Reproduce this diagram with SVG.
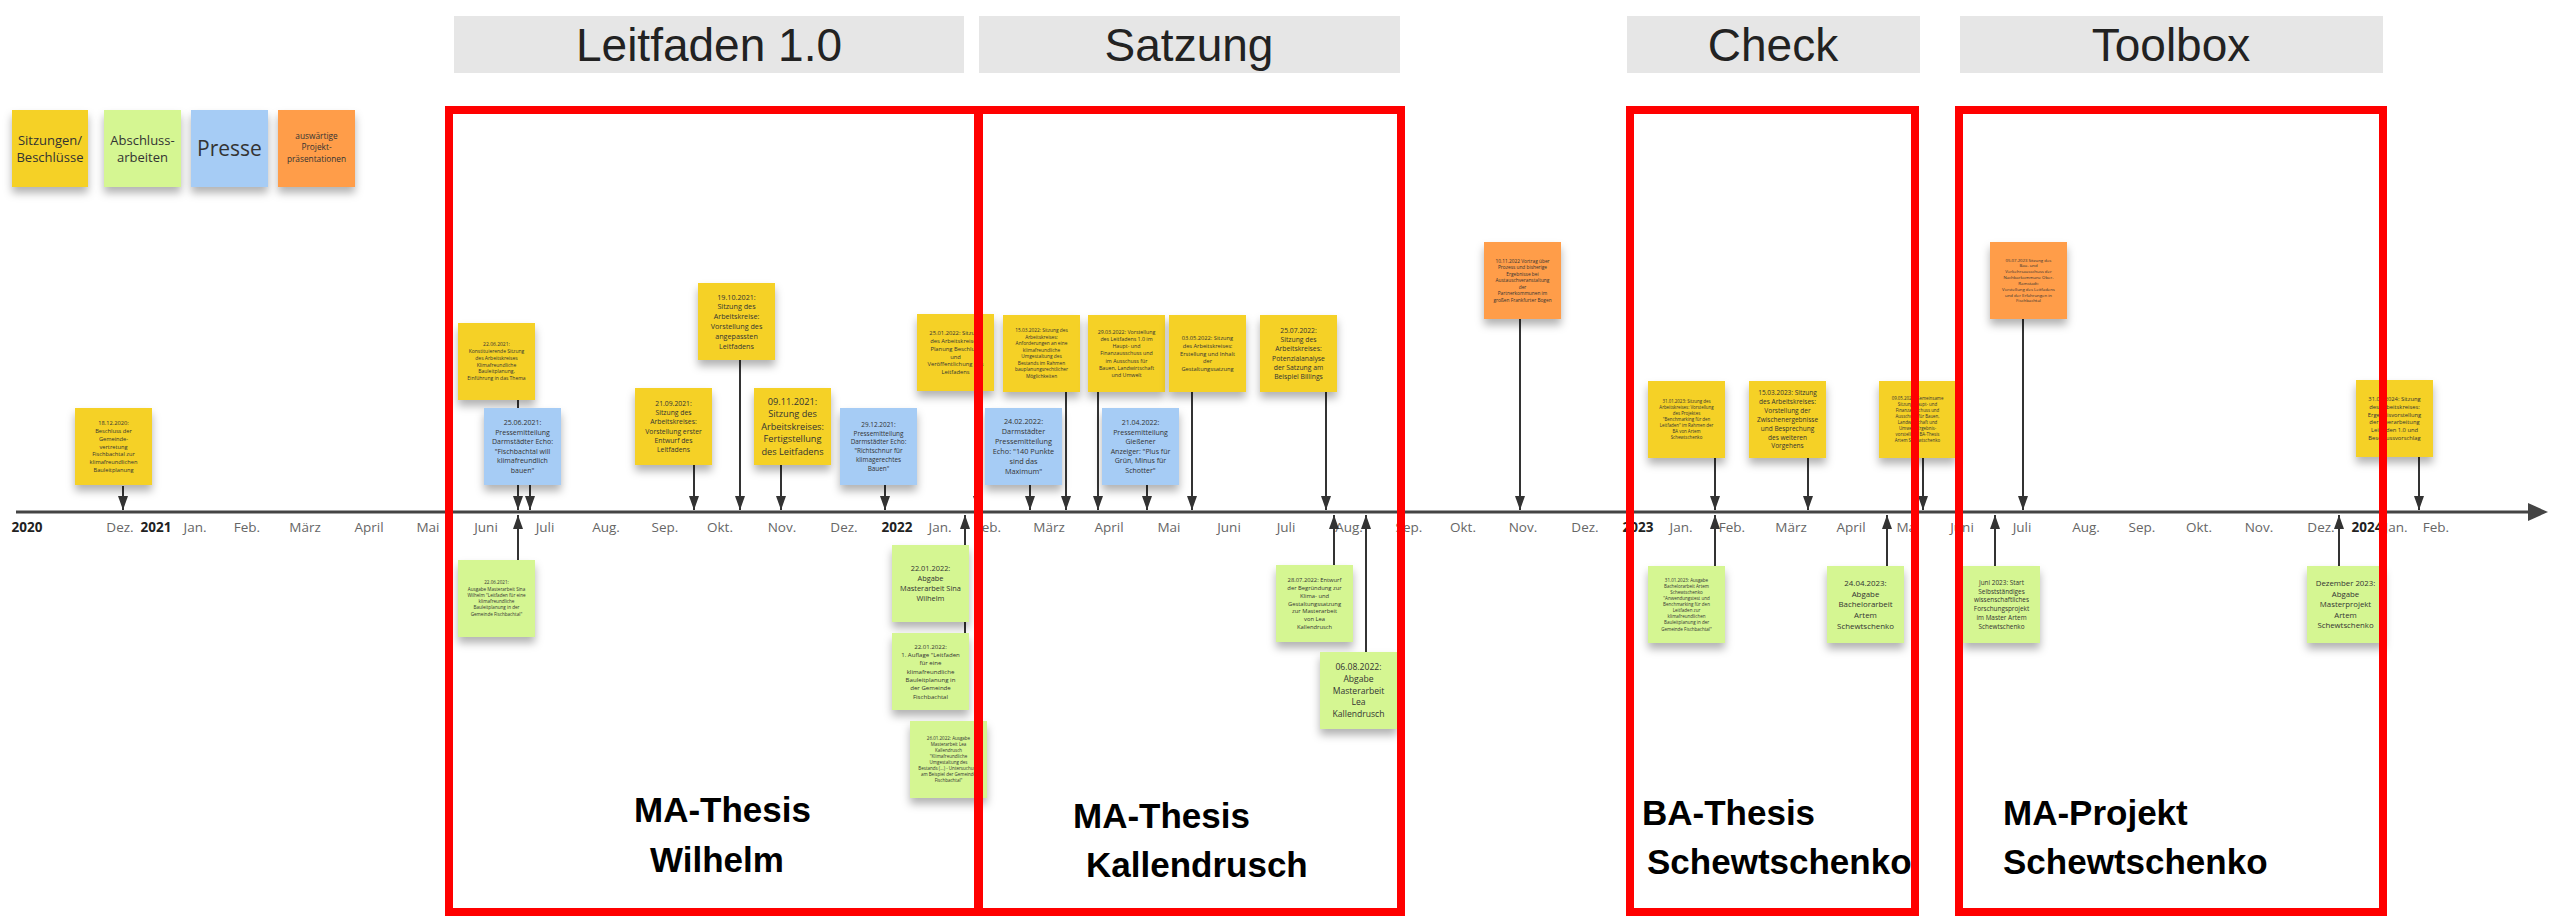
<svg xmlns="http://www.w3.org/2000/svg" width="2549" height="917" viewBox="0 0 2549 917">
<style>
.y{fill:#f5d128}.g{fill:#d5f692}.b{fill:#a6ccf5}.o{fill:#ff9d48}
.nr{filter:url(#sh)}
.nt{font-family:"Open Sans","Noto Sans",sans-serif;fill:#333;text-anchor:middle}
.c{stroke:#333;stroke-width:2;fill:none}
.dn{marker-end:url(#ah)}
.red{fill:none;stroke:#ff0000;stroke-width:8}
.hdr{fill:#e6e6e6}
.ht{font-family:"Liberation Sans",Arial,sans-serif;font-size:46px;fill:#222;text-anchor:middle}
.bt{font-family:"Liberation Sans",Arial,sans-serif;font-size:35px;font-weight:bold;fill:#000}
.ax{font-family:"Open Sans",sans-serif;font-size:13.5px;fill:#666;text-anchor:middle}
.yr{font-weight:bold;fill:#222}
</style>
<defs>
<filter id="sh" x="-20%" y="-20%" width="140%" height="150%">
<feDropShadow dx="0" dy="6" stdDeviation="4" flood-color="#000" flood-opacity="0.3"/>
</filter>
<marker id="ah" markerUnits="userSpaceOnUse" markerWidth="14" markerHeight="10" refX="14" refY="5" orient="auto">
<path d="M0,0 L14,5 L0,10 z" fill="#333"/>
</marker>
</defs>
<rect width="2549" height="917" fill="#fff"/>

<g id="headers">
<rect class="hdr" x="454" y="16" width="510" height="57"/><text class="ht" x="709" y="61">Leitfaden 1.0</text>
<rect class="hdr" x="979" y="16" width="421" height="57"/><text class="ht" x="1189" y="61">Satzung</text>
<rect class="hdr" x="1627" y="16" width="293" height="57"/><text class="ht" x="1773" y="61">Check</text>
<rect class="hdr" x="1960" y="16" width="423" height="57"/><text class="ht" x="2171" y="61">Toolbox</text>
</g>

<g id="legend">
<rect class="y nr" x="12" y="110" width="76" height="77"/>
<text class="nt" font-size="13" x="50" y="145"><tspan x="50">Sitzungen/</tspan><tspan x="50" dy="17">Beschlüsse</tspan></text>
<rect class="g nr" x="104" y="110" width="77" height="77"/>
<text class="nt" font-size="13" x="142.5" y="145"><tspan x="142.5">Abschluss-</tspan><tspan x="142.5" dy="17">arbeiten</tspan></text>
<rect class="b nr" x="191" y="110" width="77" height="77"/>
<text class="nt" font-size="21" x="229.5" y="156">Presse</text>
<rect class="o nr" x="278" y="110" width="77" height="77"/>
<text class="nt" font-size="8.3" x="316.5" y="138.7"><tspan x="316.5">auswärtige</tspan><tspan x="316.5" dy="11.5">Projekt-</tspan><tspan x="316.5" dy="11.5">präsentationen</tspan></text>
</g>

<g id="timeline">
<line x1="16" y1="512" x2="2532" y2="512" stroke="#444" stroke-width="3"/>
<path d="M2528,503 L2548,512 L2528,521 z" fill="#444"/>
<text class="ax yr" x="27" y="532">2020</text>
<text class="ax" x="120" y="532">Dez.</text>
<text class="ax yr" x="156" y="532">2021</text>
<text class="ax" x="195" y="532">Jan.</text>
<text class="ax" x="247" y="532">Feb.</text>
<text class="ax" x="305" y="532">März</text>
<text class="ax" x="369" y="532">April</text>
<text class="ax" x="428" y="532">Mai</text>
<text class="ax" x="486" y="532">Juni</text>
<text class="ax" x="545" y="532">Juli</text>
<text class="ax" x="606" y="532">Aug.</text>
<text class="ax" x="665" y="532">Sep.</text>
<text class="ax" x="720" y="532">Okt.</text>
<text class="ax" x="782" y="532">Nov.</text>
<text class="ax" x="844" y="532">Dez.</text>
<text class="ax yr" x="897" y="532">2022</text>
<text class="ax" x="940" y="532">Jan.</text>
<text class="ax" x="988" y="532">Feb.</text>
<text class="ax" x="1049" y="532">März</text>
<text class="ax" x="1109" y="532">April</text>
<text class="ax" x="1169" y="532">Mai</text>
<text class="ax" x="1229" y="532">Juni</text>
<text class="ax" x="1286" y="532">Juli</text>
<text class="ax" x="1349" y="532">Aug.</text>
<text class="ax" x="1409" y="532">Sep.</text>
<text class="ax" x="1463" y="532">Okt.</text>
<text class="ax" x="1523" y="532">Nov.</text>
<text class="ax" x="1585" y="532">Dez.</text>
<text class="ax yr" x="1638" y="532">2023</text>
<text class="ax" x="1681" y="532">Jan.</text>
<text class="ax" x="1732" y="532">Feb.</text>
<text class="ax" x="1791" y="532">März</text>
<text class="ax" x="1851" y="532">April</text>
<text class="ax" x="1908" y="532">Mai</text>
<text class="ax" x="1962" y="532">Juni</text>
<text class="ax" x="2022" y="532">Juli</text>
<text class="ax" x="2086" y="532">Aug.</text>
<text class="ax" x="2142" y="532">Sep.</text>
<text class="ax" x="2199" y="532">Okt.</text>
<text class="ax" x="2259" y="532">Nov.</text>
<text class="ax" x="2321" y="532">Dez.</text>
<text class="ax yr" x="2367" y="532">2024</text>
<text class="ax" x="2396" y="532">Jan.</text>
<text class="ax" x="2436" y="532">Feb.</text>
</g>

<g id="connectors">
<path class="c dn" d="M123,486 V510"/>
<path class="c dn" d="M518,400 V510"/>
<path class="c dn" d="M530,485 V510"/>
<path class="c dn" d="M694,465 V510"/>
<path class="c dn" d="M740,360 V510"/>
<path class="c dn" d="M781,465 V510"/>
<path class="c dn" d="M885,485 V510"/>
<path class="c dn" d="M978,391 V510"/>
<path class="c dn" d="M1030,485 V510"/>
<path class="c dn" d="M1066,392 V510"/>
<path class="c dn" d="M1098,392 V510"/>
<path class="c dn" d="M1147,485 V510"/>
<path class="c dn" d="M1192,392 V510"/>
<path class="c dn" d="M1326,392 V510"/>
<path class="c dn" d="M1520,319 V510"/>
<path class="c dn" d="M1715,458 V510"/>
<path class="c dn" d="M1808,458 V510"/>
<path class="c dn" d="M1923,458 V510"/>
<path class="c dn" d="M2023,319 V510"/>
<path class="c dn" d="M2419,457 V510"/>
<path class="c dn" d="M518,560 V515"/>
<path class="c dn" d="M965,633 V515"/>
<path class="c dn" d="M1334,565 V515"/>
<path class="c dn" d="M1366,652 V515"/>
<path class="c dn" d="M1715,566 V515"/>
<path class="c dn" d="M1887,566 V515"/>
<path class="c dn" d="M1995,566 V515"/>
<path class="c dn" d="M2339,566 V515"/>
</g>

<g id="n-20201218"><rect class="y nr" x="75" y="408" width="77" height="77"/>
<text class="nt" font-size="5.7" y="425.25"><tspan x="113.5">18.12.2020:</tspan><tspan x="113.5" dy="7.75">Beschluss der</tspan><tspan x="113.5" dy="7.75">Gemeinde-</tspan><tspan x="113.5" dy="7.75">vertretung</tspan><tspan x="113.5" dy="7.75">Fischbachtal zur</tspan><tspan x="113.5" dy="7.75">klimafreundlichen</tspan><tspan x="113.5" dy="7.75">Bauleitplanung</tspan></text></g>

<g id="n-20210622a"><rect class="y nr" x="458" y="323" width="77" height="77"/>
<text class="nt" font-size="5" y="346.25"><tspan x="496.5">22.06.2021:</tspan><tspan x="496.5" dy="6.8">Konstituierende Sitzung</tspan><tspan x="496.5" dy="6.8">des Arbeitskreises</tspan><tspan x="496.5" dy="6.8">Klimafreundliche</tspan><tspan x="496.5" dy="6.8">Bauleitplanung,</tspan><tspan x="496.5" dy="6.8">Einführung in das Thema</tspan></text></g>

<g id="n-20210625"><rect class="b nr" x="484" y="408" width="77" height="77"/>
<text class="nt" font-size="7" y="425.2"><tspan x="522.5">25.06.2021:</tspan><tspan x="522.5" dy="9.5">Pressemitteilung</tspan><tspan x="522.5" dy="9.5">Darmstädter Echo:</tspan><tspan x="522.5" dy="9.5">"Fischbachtal will</tspan><tspan x="522.5" dy="9.5">klimafreundlich</tspan><tspan x="522.5" dy="9.5">bauen"</tspan></text></g>

<g id="n-20210622b"><rect class="g nr" x="458" y="560" width="77" height="77"/>
<text class="nt" font-size="4.6" y="584.45"><tspan x="496.5">22.06.2021:</tspan><tspan x="496.5" dy="6.26">Ausgabe Masterarbeit Sina</tspan><tspan x="496.5" dy="6.26">Wilhelm "Leitfaden für eine</tspan><tspan x="496.5" dy="6.26">klimafreundliche</tspan><tspan x="496.5" dy="6.26">Bauleitplanung in der</tspan><tspan x="496.5" dy="6.26">Gemeinde Fischbachtal"</tspan></text></g>

<g id="n-20210921"><rect class="y nr" x="635" y="388" width="77" height="77"/>
<text class="nt" font-size="6.8" y="405.8"><tspan x="673.5">21.09.2021:</tspan><tspan x="673.5" dy="9.25">Sitzung des</tspan><tspan x="673.5" dy="9.25">Arbeitskreises:</tspan><tspan x="673.5" dy="9.25">Vorstellung erster</tspan><tspan x="673.5" dy="9.25">Entwurf des</tspan><tspan x="673.5" dy="9.25">Leitfadens</tspan></text></g>

<g id="n-20211019"><rect class="y nr" x="698" y="283" width="77" height="77"/>
<text class="nt" font-size="7.2" y="299.5"><tspan x="736.5">19.10.2021:</tspan><tspan x="736.5" dy="9.8">Sitzung des</tspan><tspan x="736.5" dy="9.8">Arbeitskreise:</tspan><tspan x="736.5" dy="9.8">Vorstellung des</tspan><tspan x="736.5" dy="9.8">angepassten</tspan><tspan x="736.5" dy="9.8">Leitfadens</tspan></text></g>

<g id="n-20211109"><rect class="y nr" x="754" y="388" width="77" height="77"/>
<text class="nt" font-size="9.2" y="404.7"><tspan x="792.5">09.11.2021:</tspan><tspan x="792.5" dy="12.5">Sitzung des</tspan><tspan x="792.5" dy="12.5">Arbeitskreises:</tspan><tspan x="792.5" dy="12.5">Fertigstellung</tspan><tspan x="792.5" dy="12.5">des Leitfadens</tspan></text></g>

<g id="n-20211229"><rect class="b nr" x="840" y="408" width="77" height="77"/>
<text class="nt" font-size="6.4" y="427"><tspan x="878.5">29.12.2021:</tspan><tspan x="878.5" dy="8.7">Pressemitteilung</tspan><tspan x="878.5" dy="8.7">Darmstädter Echo:</tspan><tspan x="878.5" dy="8.7">"Richtschnur für</tspan><tspan x="878.5" dy="8.7">klimagerechtes</tspan><tspan x="878.5" dy="8.7">Bauen"</tspan></text></g>

<g id="n-20220125"><rect class="y nr" x="917" y="314" width="77" height="77"/>
<text class="nt" font-size="5.8" y="334.8"><tspan x="955.5">25.01.2022: Sitzung</tspan><tspan x="955.5" dy="7.9">des Arbeitskreises:</tspan><tspan x="955.5" dy="7.9">Planung Beschluss</tspan><tspan x="955.5" dy="7.9">und</tspan><tspan x="955.5" dy="7.9">Veröffentlichung des</tspan><tspan x="955.5" dy="7.9">Leitfadens</tspan></text></g>

<g id="n-20220122a"><rect class="g nr" x="892" y="545" width="77" height="77"/>
<text class="nt" font-size="7.4" y="571.1"><tspan x="930.5">22.01.2022:</tspan><tspan x="930.5" dy="10">Abgabe</tspan><tspan x="930.5" dy="10">Masterarbeit Sina</tspan><tspan x="930.5" dy="10">Wilhelm</tspan></text></g>

<g id="n-20220122b"><rect class="g nr" x="892" y="633" width="77" height="77"/>
<text class="nt" font-size="6.1" y="648.7"><tspan x="930.5">22.01.2022:</tspan><tspan x="930.5" dy="8.3">1. Auflage "Leitfaden</tspan><tspan x="930.5" dy="8.3">für eine</tspan><tspan x="930.5" dy="8.3">klimafreundliche</tspan><tspan x="930.5" dy="8.3">Bauleitplanung in</tspan><tspan x="930.5" dy="8.3">der Gemeinde</tspan><tspan x="930.5" dy="8.3">Fischbachtal</tspan></text></g>

<g id="n-20220126"><rect class="g nr" x="910" y="721" width="77" height="77"/>
<text class="nt" font-size="4.5" y="739.75"><tspan x="948.5">26.01.2022: Ausgabe</tspan><tspan x="948.5" dy="6.1">Masterarbeit Lea</tspan><tspan x="948.5" dy="6.1">Kallendrusch</tspan><tspan x="948.5" dy="6.1">"Klimafreundliche</tspan><tspan x="948.5" dy="6.1">Umgestaltung des</tspan><tspan x="948.5" dy="6.1">Bestands (...) - Untersuchung</tspan><tspan x="948.5" dy="6.1">am Beispiel der Gemeinde</tspan><tspan x="948.5" dy="6.1">Fischbachtal"</tspan></text></g>

<g id="n-20220315"><rect class="y nr" x="1003" y="315" width="77" height="77"/>
<text class="nt" font-size="4.8" y="332.45"><tspan x="1041.5">15.03.2022: Sitzung des</tspan><tspan x="1041.5" dy="6.5">Arbeitskreises:</tspan><tspan x="1041.5" dy="6.5">Anforderungen an eine</tspan><tspan x="1041.5" dy="6.5">klimafreundliche</tspan><tspan x="1041.5" dy="6.5">Umgestaltung des</tspan><tspan x="1041.5" dy="6.5">Bestands im Rahmen</tspan><tspan x="1041.5" dy="6.5">bauplanungsrechtlicher</tspan><tspan x="1041.5" dy="6.5">Möglichkeiten</tspan></text></g>

<g id="n-20220329"><rect class="y nr" x="1088" y="315" width="77" height="77"/>
<text class="nt" font-size="5.3" y="333.76"><tspan x="1126.5">29.03.2022: Vorstellung</tspan><tspan x="1126.5" dy="7.2">des Leitfadens 1.0 im</tspan><tspan x="1126.5" dy="7.2">Haupt- und</tspan><tspan x="1126.5" dy="7.2">Finanzausschuss und</tspan><tspan x="1126.5" dy="7.2">im Ausschuss für</tspan><tspan x="1126.5" dy="7.2">Bauen, Landwirtschaft</tspan><tspan x="1126.5" dy="7.2">und Umwelt</tspan></text></g>

<g id="n-20220224"><rect class="b nr" x="985" y="408" width="77" height="77"/>
<text class="nt" font-size="7.3" y="424.3"><tspan x="1023.5">24.02.2022:</tspan><tspan x="1023.5" dy="9.9">Darmstädter</tspan><tspan x="1023.5" dy="9.9">Pressemitteilung</tspan><tspan x="1023.5" dy="9.9">Echo: "140 Punkte</tspan><tspan x="1023.5" dy="9.9">sind das</tspan><tspan x="1023.5" dy="9.9">Maximum"</tspan></text></g>

<g id="n-20220421"><rect class="b nr" x="1102" y="408" width="77" height="77"/>
<text class="nt" font-size="7" y="425.2"><tspan x="1140.5">21.04.2022:</tspan><tspan x="1140.5" dy="9.5">Pressemitteilung</tspan><tspan x="1140.5" dy="9.5">Gießener</tspan><tspan x="1140.5" dy="9.5">Anzeiger: "Plus für</tspan><tspan x="1140.5" dy="9.5">Grün, Minus für</tspan><tspan x="1140.5" dy="9.5">Schotter"</tspan></text></g>

<g id="n-20220503"><rect class="y nr" x="1169" y="315" width="77" height="77"/>
<text class="nt" font-size="5.7" y="340"><tspan x="1207.5">03.05.2022: Sitzung</tspan><tspan x="1207.5" dy="7.75">des Arbeitskreises:</tspan><tspan x="1207.5" dy="7.75">Erstellung und Inhalt</tspan><tspan x="1207.5" dy="7.75">der</tspan><tspan x="1207.5" dy="7.75">Gestaltungssatzung</tspan></text></g>

<g id="n-20220725"><rect class="y nr" x="1260" y="315" width="77" height="77"/>
<text class="nt" font-size="6.8" y="332.8"><tspan x="1298.5">25.07.2022:</tspan><tspan x="1298.5" dy="9.25">Sitzung des</tspan><tspan x="1298.5" dy="9.25">Arbeitskreises:</tspan><tspan x="1298.5" dy="9.25">Potenzialanalyse</tspan><tspan x="1298.5" dy="9.25">der Satzung am</tspan><tspan x="1298.5" dy="9.25">Beispiel Billings</tspan></text></g>

<g id="n-20220728"><rect class="g nr" x="1276" y="565" width="77" height="77"/>
<text class="nt" font-size="5.8" y="581.8"><tspan x="1314.5">28.07.2022: Entwurf</tspan><tspan x="1314.5" dy="7.9">der Begründung zur</tspan><tspan x="1314.5" dy="7.9">Klima- und</tspan><tspan x="1314.5" dy="7.9">Gestaltungssatzung</tspan><tspan x="1314.5" dy="7.9">zur Masterarbeit</tspan><tspan x="1314.5" dy="7.9">von Lea</tspan><tspan x="1314.5" dy="7.9">Kallendrusch</tspan></text></g>

<g id="n-20220806"><rect class="g nr" x="1320" y="652" width="77" height="77"/>
<text class="nt" font-size="8.6" y="670.1"><tspan x="1358.5">06.08.2022:</tspan><tspan x="1358.5" dy="11.7">Abgabe</tspan><tspan x="1358.5" dy="11.7">Masterarbeit</tspan><tspan x="1358.5" dy="11.7">Lea</tspan><tspan x="1358.5" dy="11.7">Kallendrusch</tspan></text></g>

<g id="n-20221110"><rect class="o nr" x="1484" y="242" width="77" height="77"/>
<text class="nt" font-size="4.8" y="262.7"><tspan x="1522.5">10.11.2022 Vortrag über</tspan><tspan x="1522.5" dy="6.5">Prozess und bisherige</tspan><tspan x="1522.5" dy="6.5">Ergebnisse bei</tspan><tspan x="1522.5" dy="6.5">Austauschveranstaltung</tspan><tspan x="1522.5" dy="6.5">der</tspan><tspan x="1522.5" dy="6.5">Partnerkommunen im</tspan><tspan x="1522.5" dy="6.5">großen Frankfurter Bogen</tspan></text></g>

<g id="n-20230131a"><rect class="y nr" x="1648" y="381" width="77" height="77"/>
<text class="nt" font-size="4.4" y="403"><tspan x="1686.5">31.01.2023: Sitzung des</tspan><tspan x="1686.5" dy="6">Arbeitskreises: Vorstellung</tspan><tspan x="1686.5" dy="6">des Projektes</tspan><tspan x="1686.5" dy="6">"Benchmarking für den</tspan><tspan x="1686.5" dy="6">Leitfaden" im Rahmen der</tspan><tspan x="1686.5" dy="6">BA von Artem</tspan><tspan x="1686.5" dy="6">Schewtschenko</tspan></text></g>

<g id="n-20230315"><rect class="y nr" x="1749" y="381" width="77" height="77"/>
<text class="nt" font-size="6.5" y="395.25"><tspan x="1787.5">15.03.2023: Sitzung</tspan><tspan x="1787.5" dy="8.85">des Arbeitskreises:</tspan><tspan x="1787.5" dy="8.85">Vorstellung der</tspan><tspan x="1787.5" dy="8.85">Zwischenergebnisse</tspan><tspan x="1787.5" dy="8.85">und Besprechung</tspan><tspan x="1787.5" dy="8.85">des weiteren</tspan><tspan x="1787.5" dy="8.85">Vorgehens</tspan></text></g>

<g id="n-20230509"><rect class="y nr" x="1879" y="381" width="77" height="77"/>
<text class="nt" font-size="4.4" y="400"><tspan x="1917.5">09.05.2023: Gemeinsame</tspan><tspan x="1917.5" dy="6">Sitzung Haupt- und</tspan><tspan x="1917.5" dy="6">Finanzausschuss und</tspan><tspan x="1917.5" dy="6">Ausschuss für Bauen,</tspan><tspan x="1917.5" dy="6">Landwirtschaft und</tspan><tspan x="1917.5" dy="6">Umwelt: Ergebnis-</tspan><tspan x="1917.5" dy="6">vorstellung BA-Thesis</tspan><tspan x="1917.5" dy="6">Artem Schewtschenko</tspan></text></g>

<g id="n-20230131b"><rect class="g nr" x="1648" y="566" width="77" height="77"/>
<text class="nt" font-size="4.5" y="581.7"><tspan x="1686.5">31.01.2023: Ausgabe</tspan><tspan x="1686.5" dy="6.1">Bachelorarbeit Artem</tspan><tspan x="1686.5" dy="6.1">Schewtschenko</tspan><tspan x="1686.5" dy="6.1">"Anwendungstest und</tspan><tspan x="1686.5" dy="6.1">Benchmarking für den</tspan><tspan x="1686.5" dy="6.1">Leitfaden zur</tspan><tspan x="1686.5" dy="6.1">klimafreundlichen</tspan><tspan x="1686.5" dy="6.1">Bauleitplanung in der</tspan><tspan x="1686.5" dy="6.1">Gemeinde Fischbachtal"</tspan></text></g>

<g id="n-20230424"><rect class="g nr" x="1827" y="566" width="77" height="77"/>
<text class="nt" font-size="7.9" y="585.8"><tspan x="1865.5">24.04.2023:</tspan><tspan x="1865.5" dy="10.75">Abgabe</tspan><tspan x="1865.5" dy="10.75">Bachelorarbeit</tspan><tspan x="1865.5" dy="10.75">Artem</tspan><tspan x="1865.5" dy="10.75">Schewtschenko</tspan></text></g>

<g id="n-20230705"><rect class="o nr" x="1990" y="242" width="77" height="77"/>
<text class="nt" font-size="4.3" y="261.5"><tspan x="2028.5">05.07.2023 Sitzung des</tspan><tspan x="2028.5" dy="5.85">Bau- und</tspan><tspan x="2028.5" dy="5.85">Verkehrsausschuss  der</tspan><tspan x="2028.5" dy="5.85">Nachbarkommune Ober-</tspan><tspan x="2028.5" dy="5.85">Ramstadt:</tspan><tspan x="2028.5" dy="5.85">Vorstellung des  Leitfadens</tspan><tspan x="2028.5" dy="5.85">und der Erfahrungen in</tspan><tspan x="2028.5" dy="5.85">Fischbachtal</tspan></text></g>

<g id="n-202306"><rect class="g nr" x="1963" y="566" width="77" height="77"/>
<text class="nt" font-size="6.4" y="585"><tspan x="2001.5">Juni 2023: Start</tspan><tspan x="2001.5" dy="8.7">Selbstständiges</tspan><tspan x="2001.5" dy="8.7">wissenschaftliches</tspan><tspan x="2001.5" dy="8.7">Forschungsprojekt</tspan><tspan x="2001.5" dy="8.7">im Master Artem</tspan><tspan x="2001.5" dy="8.7">Schewtschenko</tspan></text></g>

<g id="n-202312"><rect class="g nr" x="2307" y="566" width="77" height="77"/>
<text class="nt" font-size="7.8" y="586"><tspan x="2345.5">Dezember 2023:</tspan><tspan x="2345.5" dy="10.6">Abgabe</tspan><tspan x="2345.5" dy="10.6">Masterprojekt</tspan><tspan x="2345.5" dy="10.6">Artem</tspan><tspan x="2345.5" dy="10.6">Schewtschenko</tspan></text></g>

<g id="n-20240131"><rect class="y nr" x="2356" y="380" width="77" height="77"/>
<text class="nt" font-size="5.8" y="400.75"><tspan x="2394.5">31.01.2024: Sitzung</tspan><tspan x="2394.5" dy="7.9">des Arbeitskreises:</tspan><tspan x="2394.5" dy="7.9">Ergebnisvorstellung</tspan><tspan x="2394.5" dy="7.9">der Überarbeitung</tspan><tspan x="2394.5" dy="7.9">Leitfaden 1.0 und</tspan><tspan x="2394.5" dy="7.9">Beschlussvorschlag</tspan></text></g>

<g id="phases">
<rect class="red" x="449" y="110" width="529" height="802"/>
<rect class="red" x="979" y="110" width="422" height="802"/>
<rect class="red" x="1630" y="110" width="285" height="802"/>
<rect class="red" x="1959" y="110" width="424" height="802"/>
<text class="bt" x="634" y="822">MA-Thesis</text>
<text class="bt" x="650" y="872">Wilhelm</text>
<text class="bt" x="1073" y="828">MA-Thesis</text>
<text class="bt" x="1086" y="877">Kallendrusch</text>
<text class="bt" x="1642" y="825">BA-Thesis</text>
<text class="bt" x="1647" y="874">Schewtschenko</text>
<text class="bt" x="2003" y="825">MA-Projekt</text>
<text class="bt" x="2003" y="874">Schewtschenko</text>
</g>
</svg>
